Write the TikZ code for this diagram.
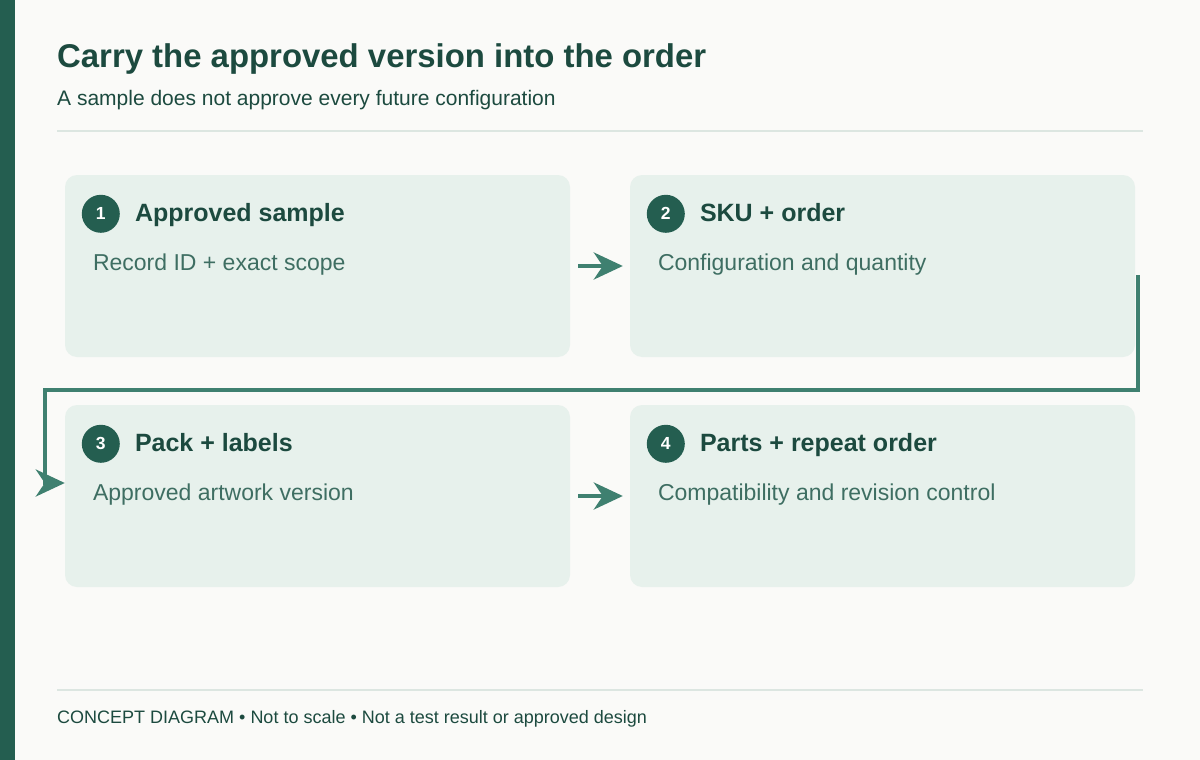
\documentclass[tikz,border=0pt]{standalone}
\usepackage{fontspec}
\setmainfont{Liberation Sans}
\usetikzlibrary{arrows.meta,positioning}

\definecolor{paper}{HTML}{FAFAF8}
\definecolor{darkgreen}{HTML}{245E50}
\definecolor{inkgreen}{HTML}{1C4A3F}
\definecolor{softgreen}{HTML}{3E6E62}
\definecolor{cardfill}{HTML}{E7F1EC}
\definecolor{linkgreen}{HTML}{3F8070}
\definecolor{rulegrey}{HTML}{DCE6E1}

\tikzset{
	card/.style={fill=cardfill, rounded corners=12pt, minimum width=505pt, minimum height=182pt, inner sep=0pt},
	num/.style={circle, fill=darkgreen, text=white, minimum size=38pt, inner sep=0pt, font=\fontsize{17.5}{17.5}\selectfont\bfseries},
	head/.style={anchor=base west, inner sep=0pt, text=inkgreen, font=\fontsize{25}{25}\selectfont\bfseries},
	body/.style={anchor=base west, inner sep=0pt, text=softgreen, font=\fontsize{23}{23}\selectfont},
	link/.style={draw=linkgreen, line width=4pt, -{Stealth[length=29pt,width=27pt,inset=9pt]}},
}

\begin{document}
\begin{tikzpicture}[x=1pt, y=-1pt]
		% Page background and side bar
		\fill[paper] (0,0) rectangle (1200,760);
		\useasboundingbox (0,0) rectangle (1200,760);
		\fill[darkgreen] (0,0) rectangle (15,760);

		% Title block
		\node[anchor=base west, inner sep=0pt, text=inkgreen, font=\fontsize{32.9}{32.9}\selectfont\bfseries] (title) at (57,67) {Carry the approved version into the order};
		\node[anchor=base west, inner sep=0pt, text=inkgreen, font=\fontsize{21}{21}\selectfont] (subtitle) at (57,105) {A sample does not approve every future configuration};
		\draw[rulegrey, line width=2pt] (57,131) -- (1143,131);

		% Cards
		\node[card] (b1) at (317.5,266) {};
		\node[card] (b2) at (882.5,266) {};
		\node[card] (b3) at (317.5,496) {};
		\node[card] (b4) at (882.5,496) {};

		% Card 1
		\node[num] (n1) at ([xshift=36pt,yshift=-39pt]b1.north west) {1};
		\node[head] (h1) at ([xshift=70pt,yshift=-47pt]b1.north west) {Approved sample};
		\node[body] (t1) at ([xshift=28pt,yshift=-96pt]b1.north west) {Record ID + exact scope};

		% Card 2
		\node[num] (n2) at ([xshift=36pt,yshift=-39pt]b2.north west) {2};
		\node[head] (h2) at ([xshift=70pt,yshift=-47pt]b2.north west) {SKU + order};
		\node[body] (t2) at ([xshift=28pt,yshift=-96pt]b2.north west) {Configuration and quantity};

		% Card 3
		\node[num] (n3) at ([xshift=36pt,yshift=-39pt]b3.north west) {3};
		\node[head] (h3) at ([xshift=70pt,yshift=-47pt]b3.north west) {Pack + labels};
		\node[body] (t3) at ([xshift=28pt,yshift=-96pt]b3.north west) {Approved artwork version};

		% Card 4
		\node[num] (n4) at ([xshift=36pt,yshift=-39pt]b4.north west) {4};
		\node[head] (h4) at ([xshift=70pt,yshift=-47pt]b4.north west) {Parts + repeat order};
		\node[body] (t4) at ([xshift=28pt,yshift=-96pt]b4.north west) {Compatibility and revision control};

		% Connecting arrows
		\draw[link] ([xshift=8pt]b1.east) -- ([xshift=-7pt]b2.west);
		\draw[link] ([xshift=8pt]b3.east) -- ([xshift=-7pt]b4.west);

		% Wrap-around from card 2 back to card 3
		\coordinate (wrapstart) at ([xshift=3pt,yshift=-9pt]b2.east);
		\coordinate (wrapend) at ([yshift=13pt]b3.west);
		\draw[link] (wrapstart) -- (wrapstart |- 0,390) -- (45,390) -- (45,483) -- (wrapend);

		% Footer
		\draw[rulegrey, line width=2pt] (57,690) -- (1143,690);
		\node[anchor=base west, inner sep=0pt, text=inkgreen, font=\fontsize{18}{18}\selectfont] (footer) at (57,723) {CONCEPT DIAGRAM • Not to scale • Not a test result or approved design};
	\end{tikzpicture}
\end{document}
